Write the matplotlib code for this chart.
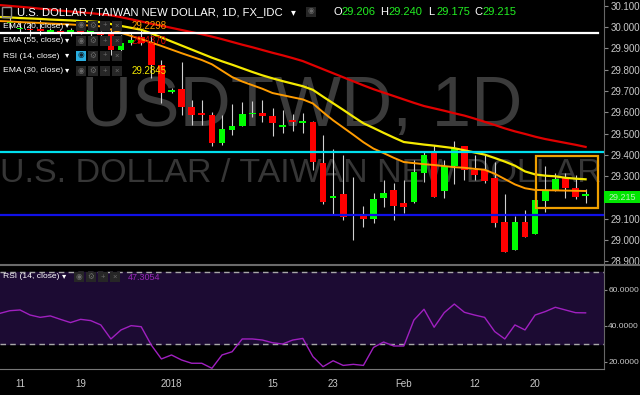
import numpy as np
import matplotlib
matplotlib.use('Agg')
import matplotlib.pyplot as plt
from matplotlib.patches import Rectangle

plt.rcParams['font.family'] = ['Liberation Sans', 'DejaVu Sans']

# ---- data ----
# candle index 0 = 11 Dec 2017; first candle is index -1
opens = [30.019, 29.990, 29.990, 29.990, 29.975, 29.981, 29.967, 29.986, 29.967, 29.972,
         29.972, 29.892, 29.925, 29.953, 29.930, 29.822, 29.695, 29.709, 29.624, 29.596,
         29.587, 29.455, 29.516, 29.535, 29.592, 29.596, 29.582, 29.531, 29.563, 29.549,
         29.554, 29.362, 29.197, 29.216, 29.113, 29.113, 29.099, 29.197, 29.235, 29.174,
         29.178, 29.315, 29.408, 29.230, 29.347, 29.441, 29.329, 29.329, 29.291, 29.085,
         28.953, 29.085, 29.028, 29.183, 29.230, 29.296, 29.244, 29.206]
closes = [30.030, 29.992, 29.985, 29.980, 29.985, 29.967, 29.986, 29.977, 29.984, 29.962,
          29.892, 29.925, 29.939, 29.925, 29.822, 29.690, 29.704, 29.624, 29.587, 29.587,
          29.455, 29.521, 29.535, 29.592, 29.594, 29.582, 29.549, 29.540, 29.554, 29.559,
          29.366, 29.178, 29.207, 29.108, 29.116, 29.099, 29.192, 29.221, 29.160, 29.155,
          29.319, 29.399, 29.202, 29.347, 29.432, 29.329, 29.305, 29.277, 29.080, 28.944,
          29.085, 29.014, 29.188, 29.230, 29.286, 29.244, 29.202, 29.215]
highs = [30.045, 30.030, 30.020, 30.033, 29.995, 29.990, 29.995, 29.995, 30.023, 29.980,
         29.995, 29.962, 29.972, 29.986, 29.962, 29.845, 29.714, 29.836, 29.657, 29.657,
         29.601, 29.587, 29.638, 29.648, 29.652, 29.657, 29.620, 29.610, 29.592, 29.596,
         29.559, 29.493, 29.427, 29.399, 29.296, 29.160, 29.221, 29.282, 29.268, 29.282,
         29.376, 29.413, 29.446, 29.376, 29.465, 29.441, 29.399, 29.399, 29.366, 29.216,
         29.113, 29.141, 29.235, 29.347, 29.315, 29.315, 29.305, 29.240]
lows = [29.990, 29.970, 29.960, 29.962, 29.970, 29.960, 29.960, 29.965, 29.953, 29.955,
        29.869, 29.883, 29.915, 29.915, 29.761, 29.643, 29.690, 29.587, 29.540, 29.540,
        29.441, 29.446, 29.493, 29.535, 29.577, 29.554, 29.488, 29.502, 29.512, 29.502,
        29.329, 29.169, 29.117, 29.094, 29.000, 29.061, 29.080, 29.155, 29.094, 29.127,
        29.174, 29.272, 29.202, 29.197, 29.263, 29.282, 29.282, 29.268, 29.061, 28.944,
        28.953, 29.014, 29.028, 29.131, 29.230, 29.197, 29.192, 29.175]

# indicator values, index -2 .. 56
ema20 = [30.028, 30.026, 30.023, 30.021, 30.019, 30.016, 30.014, 30.012, 30.009, 30.007,
         30.003, 29.988, 29.973, 29.958, 29.943, 29.927, 29.911, 29.894, 29.877, 29.861,
         29.845, 29.825, 29.795, 29.765, 29.744, 29.727, 29.710, 29.690, 29.680, 29.670,
         29.660, 29.641, 29.600, 29.562, 29.528, 29.494, 29.459, 29.429, 29.408, 29.386,
         29.366, 29.361, 29.356, 29.352, 29.347, 29.342, 29.339, 29.334, 29.330, 29.311,
         29.286, 29.261, 29.243, 29.235, 29.234, 29.233, 29.232, 29.231, 29.230]
ema30 = [30.047, 30.045, 30.042, 30.040, 30.038, 30.035, 30.033, 30.031, 30.028, 30.026,
         30.023, 30.014, 30.005, 29.996, 29.987, 29.970, 29.951, 29.932, 29.913, 29.894,
         29.875, 29.856, 29.839, 29.823, 29.806, 29.789, 29.773, 29.759, 29.746, 29.734,
         29.722, 29.705, 29.673, 29.642, 29.611, 29.579, 29.548, 29.526, 29.503, 29.481,
         29.460, 29.454, 29.448, 29.443, 29.437, 29.431, 29.421, 29.411, 29.401, 29.385,
         29.368, 29.349, 29.322, 29.308, 29.302, 29.299, 29.292, 29.288, 29.285]
ema55 = [30.103, 30.099, 30.095, 30.091, 30.086, 30.082, 30.077, 30.073, 30.069, 30.065,
         30.060, 30.055, 30.046, 30.036, 30.026, 30.015, 30.006, 29.996, 29.986, 29.976,
         29.966, 29.955, 29.943, 29.930, 29.917, 29.905, 29.892, 29.879, 29.867, 29.854,
         29.840, 29.821, 29.802, 29.783, 29.764, 29.745, 29.726, 29.708, 29.692, 29.676,
         29.660, 29.644, 29.629, 29.618, 29.607, 29.595, 29.584, 29.570, 29.555, 29.540,
         29.524, 29.510, 29.498, 29.485, 29.474, 29.465, 29.456, 29.447, 29.437]
rsi = [47.0, 48.5, 48.9, 46.1, 44.8, 45.6, 43.7, 41.9, 43.7, 43.0,
       40.6, 32.8, 37.8, 40.2, 39.6, 29.4, 21.7, 23.9, 21.1, 19.3,
       19.3, 16.5, 23.9, 25.7, 32.8, 32.8, 32.2, 30.7, 30.0, 32.2,
       33.1, 23.0, 17.4, 20.7, 18.1, 18.7, 18.1, 28.1, 31.1, 28.9,
       28.9, 43.3, 49.3, 39.3, 47.4, 52.2, 47.6, 46.1, 44.8, 36.9,
       32.8, 40.6, 37.8, 46.1, 48.0, 50.4, 48.9, 47.4, 47.3]

tick_pos = [0, 6, 15, 25, 31, 38, 45, 51]
tick_lab = ['11', '19', '2018', '15', '23', 'Feb', '12', '20']

white_level = 29.970
cyan_level = 29.412
blue_level = 29.119
box_x = (51.1, 57.2)
box_y = (29.150, 29.394)

# ---- figure ----
W, H = 640, 395
fig = plt.figure(figsize=(W / 100, H / 100), dpi=100, facecolor='black')

def fx(px):
    return px / W

def fy(py):
    return 1 - py / H

grey_txt = '#c8c8c8'
xl = (-1.98, 57.82)

ax = fig.add_axes([0, fy(264), 604 / W, 264 / H], facecolor='black')
ax.set_xlim(*xl)
ax.set_ylim(28.8873, 30.1268)

ci = np.arange(-1, 57)
li = np.arange(-2, 57)
o = np.array(opens)
c = np.array(closes)
cols = np.where(c >= o, '#00ff00', '#ff0000')
ax.vlines(ci, lows, highs, color='#d0d0d0', lw=0.8, zorder=3)
hgt = np.where(np.abs(c - o) < 0.003, 0.003, c - o)
ax.bar(ci, hgt, bottom=o, width=0.66, color=cols, zorder=4, linewidth=0)

ax.plot(li, ema55, color='#e00000', lw=1.6, zorder=5)
ax.plot(li, ema30, color='#f5ea00', lw=1.6, zorder=5)
ax.plot(li, ema20, color='#ff9c00', lw=1.4, zorder=5)

ax.plot([xl[0], 57.2], [white_level] * 2, color='white', lw=1.6, zorder=6)
ax.axhline(cyan_level, color='#00dfee', lw=1.6, zorder=6)
ax.axhline(blue_level, color='#1010e8', lw=1.6, zorder=6)
ax.add_patch(Rectangle((box_x[0], box_y[0]), box_x[1] - box_x[0], box_y[1] - box_y[0],
                       fill=False, edgecolor='#f0a000', lw=1.6, zorder=6))

# watermarks
ax.text(fx(302), fy(108), 'USDTWD, 1D', transform=fig.transFigure, ha='center', va='center',
        fontsize=51, color='#3b3b3b', zorder=1)
ax.text(fx(301), fy(173), 'U.S. DOLLAR / TAIWAN NEW DOLLAR', transform=fig.transFigure,
        ha='center', va='center', fontsize=24.5, color='#363636', zorder=1)

ax.yaxis.tick_right()
yt = np.round(np.arange(28.9, 30.101, 0.1), 3)
ax.set_yticks(yt)
ax.set_yticklabels(['%.3f' % v for v in yt])
ax.tick_params(axis='y', colors='#888888', labelcolor=grey_txt, labelsize=7, length=3, pad=2)
ax.set_xticks([])
for s in ['top', 'left', 'bottom']:
    ax.spines[s].set_visible(False)
ax.spines['right'].set_color('#666666')

# RSI panel
ax2 = fig.add_axes([0, fy(369), 604 / W, (369 - 266) / H], facecolor='black')
ax2.set_xlim(*xl)
ax2.set_ylim(16.11, 73.33)
ax2.axhspan(30, 70, color='#1c0b33', zorder=1)
ax2.axhline(70, color='#a8a8a8', lw=1, ls=(0, (4, 3)), zorder=2)
ax2.axhline(30, color='#a8a8a8', lw=1, ls=(0, (4, 3)), zorder=2)
ax2.plot(li, rsi, color='#a020c0', lw=1.0, zorder=3)
ax2.yaxis.tick_right()
ax2.set_yticks([20, 40, 60])
ax2.set_yticklabels(['20.0000', '40.0000', '60.0000'])
ax2.tick_params(axis='y', colors='#888888', labelcolor=grey_txt, labelsize=6.0, length=2, pad=1)
ax2.set_xticks(tick_pos)
ax2.set_xticklabels(tick_lab)
ax2.tick_params(axis='x', length=0, labelcolor=grey_txt, labelsize=7, pad=7)
for s in ['top', 'left']:
    ax2.spines[s].set_visible(False)
ax2.spines['right'].set_color('#666666')
ax2.spines['bottom'].set_color('#777777')

# separator between panels
fig.add_artist(plt.Line2D([0, 1], [fy(265), fy(265)], color='#6a6a6a', lw=1.5,
                          transform=fig.transFigure))

# price label
fig.add_artist(Rectangle((fx(604), fy(203)), 36 / W, 12 / H, transform=fig.transFigure,
                         facecolor='#00e600', edgecolor='none', zorder=8))
fig.text(fx(622), fy(197), '29.215', ha='center', va='center', fontsize=6.5,
         color='#b8f0b8', zorder=9)

# ---- legend texts ----
def icons(x0, y, first_on=False):
    glyphs = ['\u25c9', '\u2699', '+', '\u00d7']
    for k, g in enumerate(glyphs):
        xx = x0 + k * 12
        fc = '#2aaee0' if (first_on and k == 0) else '#262626'
        gc = '#10202a' if (first_on and k == 0) else '#6a6a6a'
        fig.add_artist(Rectangle((fx(xx), fy(y + 5)), 10 / W, 10 / H, transform=fig.transFigure,
                                 facecolor=fc, edgecolor='none', zorder=8))
        fig.text(fx(xx + 5), fy(y), g, ha='center', va='center', fontsize=5.5, color=gc, zorder=9)

fig.add_artist(Rectangle((fx(2), fy(17)), 9 / W, 10 / H, transform=fig.transFigure,
                         facecolor='none', edgecolor='#8a8a8a', lw=1, zorder=8))
fig.text(fx(17), fy(12), 'U.S. DOLLAR / TAIWAN NEW DOLLAR, 1D, FX_IDC', ha='left',
         va='center', fontsize=8.1, color='white', zorder=9)
fig.text(fx(291), fy(12), '\u25be', ha='left', va='center', fontsize=7, color='white', zorder=9)
fig.add_artist(Rectangle((fx(306), fy(17)), 10 / W, 10 / H, transform=fig.transFigure,
                         facecolor='#262626', edgecolor='none', zorder=8))
fig.text(fx(311), fy(12), '\u25c9', ha='center', va='center', fontsize=5.5, color='#6a6a6a', zorder=9)

ohlc = [('O', '29.206', 333), ('H', '29.240', 380), ('L', '29.175', 428), ('C', '29.215', 474)]
for lab, val, xx in ohlc:
    fig.text(fx(xx), fy(12), lab, ha='left', va='center', fontsize=8, color='white', zorder=9)
    fig.text(fx(xx + 8), fy(12), val, ha='left', va='center', fontsize=8, color='#22ee22', zorder=9)

rows = [('EMA (20, close)', 26, '29.2298', '#ff9c00', False),
        ('EMA (55, close)', 41, '29.4370', '#e00000', False),
        ('RSI (14, close)', 56, None, None, True),
        ('EMA (30, close)', 71, '29.2845', '#f5ea00', False)]
for txt, y, val, vc, on in rows:
    fig.text(fx(3), fy(y), txt, ha='left', va='center', fontsize=6.1, color='white', zorder=9)
    fig.text(fx(65), fy(y), '\u25be', ha='left', va='center', fontsize=6, color='white', zorder=9)
    icons(76, y, on)
    if val:
        fig.text(fx(132), fy(y), val, ha='left', va='center', fontsize=7, color=vc, zorder=9)

fig.text(fx(3), fy(277), 'RSI (14, close)', ha='left', va='center', fontsize=6.1,
         color='white', zorder=9)
fig.text(fx(62), fy(277), '\u25be', ha='left', va='center', fontsize=6, color='white', zorder=9)
icons(74, 277)
fig.text(fx(128), fy(277), '47.3054', ha='left', va='center', fontsize=6.5, color='#9a2ab8',
         zorder=9)

fig.savefig('out.png', dpi=100, facecolor='black')
